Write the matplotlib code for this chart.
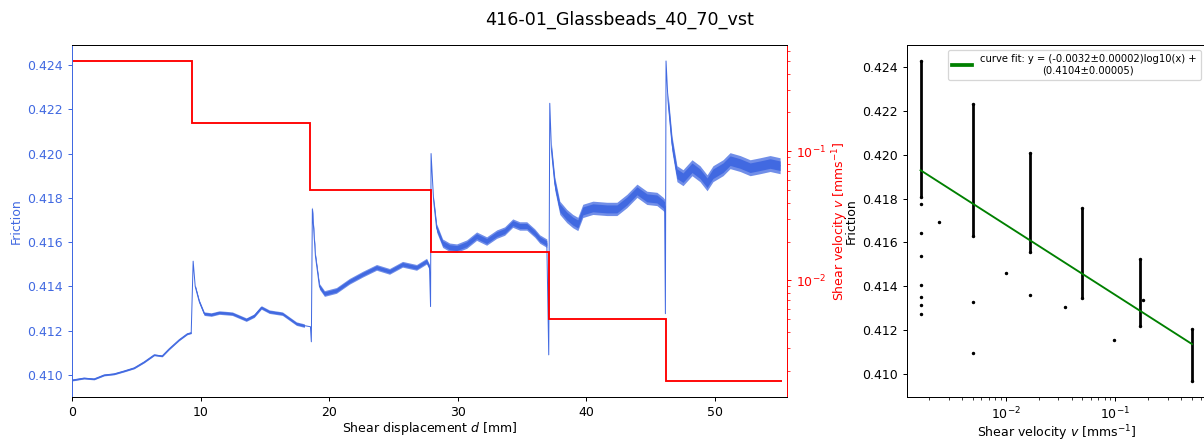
import matplotlib.pyplot as plt
import numpy as np

# friction vs shear displacement
disp = [0.0, 0.93, 1.71, 2.49, 3.27, 4.05, 4.83, 5.61, 6.39, 7.01, 7.55, 8.33, 8.96, 9.27,
        9.42, 9.58, 9.89, 10.28, 10.83, 11.45, 12.46, 13.55, 14.17, 14.72, 15.34, 16.36,
        17.45, 18.07, 18.54, 18.61, 18.69,
        18.93, 19.24, 19.63, 20.56, 21.57, 22.59, 23.68, 24.69, 25.70, 26.79, 27.57, 27.80,
        27.88, 27.92,
        28.12, 28.35, 28.82, 29.36, 29.91, 30.69, 31.46, 32.24, 33.02, 33.64, 34.27, 34.81,
        35.36, 35.98, 36.37, 36.92, 37.07, 37.15,
        37.28, 37.54, 37.93, 38.47, 38.94, 39.33, 39.72, 40.50, 41.59, 42.37, 43.15, 43.93,
        44.70, 45.48, 45.95, 46.08, 46.14, 46.19,
        46.34, 46.65, 47.04, 47.51, 48.21, 48.83, 49.38, 49.84, 50.62, 51.17, 51.95, 52.73,
        53.50, 54.28, 55.06]
friction = [0.40977, 0.40986, 0.40982, 0.41000, 0.41005, 0.41018, 0.41032, 0.41059, 0.41091,
            0.41086, 0.41118, 0.41159, 0.41186, 0.41191,
            0.41514, 0.41400, 0.41332, 0.41277, 0.41273, 0.41282, 0.41277, 0.41250, 0.41268,
            0.41305, 0.41286, 0.41277, 0.41232, 0.41223, 0.41218, 0.41150, 0.41750,
            0.41536, 0.41400, 0.41368, 0.41382, 0.41423, 0.41455, 0.41486, 0.41468, 0.41500,
            0.41486, 0.41514, 0.41486,
            0.41309, 0.42000,
            0.41786, 0.41664, 0.41595, 0.41577, 0.41573, 0.41591, 0.41627, 0.41605, 0.41636,
            0.41650, 0.41686, 0.41673, 0.41673, 0.41641, 0.41614, 0.41595, 0.41091, 0.42227,
            0.42014, 0.41864, 0.41755, 0.41718, 0.41695, 0.41682, 0.41741, 0.41755, 0.41750,
            0.41750, 0.41786, 0.41832, 0.41800, 0.41795, 0.41773, 0.41764, 0.41277, 0.42418,
            0.42241, 0.42045, 0.41909, 0.41891, 0.41936, 0.41909, 0.41868, 0.41909, 0.41936,
            0.41968, 0.41955, 0.41936, 0.41945, 0.41955, 0.41945]

# scatter (noise) half-width of the friction signal in each velocity step
noise_halfwidth = [0.00004, 0.00008, 0.00013, 0.00019, 0.00030, 0.00036]

# velocity steps (mm/s) and where they change
step_edges = [0.0, 9.35, 18.54, 27.88, 37.07, 46.15, 55.2]
step_velocity = [0.5, 0.1667, 0.05, 0.01667, 0.005, 0.001667]

# right panel: friction columns per velocity and scattered transition points
col_velocity = [0.001667, 0.005, 0.01667, 0.05, 0.1667, 0.5]
col_low = [0.41805, 0.4163, 0.41555, 0.41345, 0.41218, 0.40968]
col_high = [0.42427, 0.42232, 0.42009, 0.41755, 0.41523, 0.41205]
extra_v = [0.001667, 0.001667, 0.001667, 0.001667, 0.001667, 0.001667, 0.001667,
           0.00247, 0.005, 0.005, 0.01, 0.01667, 0.035, 0.098, 0.178]
extra_f = [0.41773, 0.41645, 0.41536, 0.41405, 0.41350, 0.41314, 0.41273,
           0.41691, 0.41327, 0.41095, 0.41459, 0.41359, 0.41305, 0.41155, 0.41336]

fit_slope, fit_intercept = -0.0032, 0.4104

fig = plt.figure(figsize=(1204 / 90, 439 / 90), dpi=90)
ax = fig.add_axes([0.0598, 0.0957, 0.5939, 0.8018])
ax2 = ax.twinx()
ax3 = fig.add_axes([0.7533, 0.0957, 0.2480, 0.8018])

d = np.array(disp)
f = np.array(friction)
ax.plot(d, f, color='royalblue', lw=0.8)
for i, hw in enumerate(noise_halfwidth):
    m = (d > step_edges[i] + 0.15) & (d < step_edges[i + 1] - 0.03)
    if i == 0:
        m = d < step_edges[1] - 0.03
    ax.fill_between(d[m], f[m] - hw, f[m] + hw, color='royalblue', alpha=0.75, lw=0)
    ax.fill_between(d[m], f[m] - 0.6 * hw, f[m] + 0.6 * hw, color='royalblue', lw=0)
ax.set_xlim(0, 55.6)
ax.set_xlabel('Shear displacement $d$ [mm]', labelpad=1)
ax.set_ylabel('Friction', color='royalblue')
ax.tick_params(axis='y', colors='royalblue')

ax2.stairs(step_velocity, step_edges, baseline=None, color='red', lw=1.5)
ax2.set_yscale('log')
ax2.set_ylabel('Shear velocity $v$ [mms$^{-1}$]', color='red')
ax2.tick_params(axis='y', which='both', colors='red')
for a in (ax, ax2):
    a.spines['left'].set_color('royalblue')
    a.spines['right'].set_color('red')

ax3.vlines(col_velocity, col_low, col_high, color='black', lw=2.2)
ax3.scatter(col_velocity + col_velocity, col_low + col_high, s=3, color='black')
ax3.scatter(extra_v, extra_f, s=3, color='black')
v = np.array(col_velocity)
ax3.plot(v, fit_slope * np.log10(v) + fit_intercept, color='green', lw=1.5,
         label='curve fit: y = (-0.0032±0.00002)log10(x) +\n(0.4104±0.00005)')
ax3.set_xscale('log')
ax3.set_xlabel('Shear velocity $v$ [mms$^{-1}$]', labelpad=1)
ax3.set_ylabel('Friction')
leg = ax3.legend(loc='upper right', fontsize=8)
leg.get_lines()[0].set_linewidth(3)
for t in leg.get_texts():
    t.set_multialignment('center')

fig.suptitle('416-01_Glassbeads_40_70_vst', x=0.515, y=0.975, fontsize=14)
fig.savefig('out.png', dpi=90)
